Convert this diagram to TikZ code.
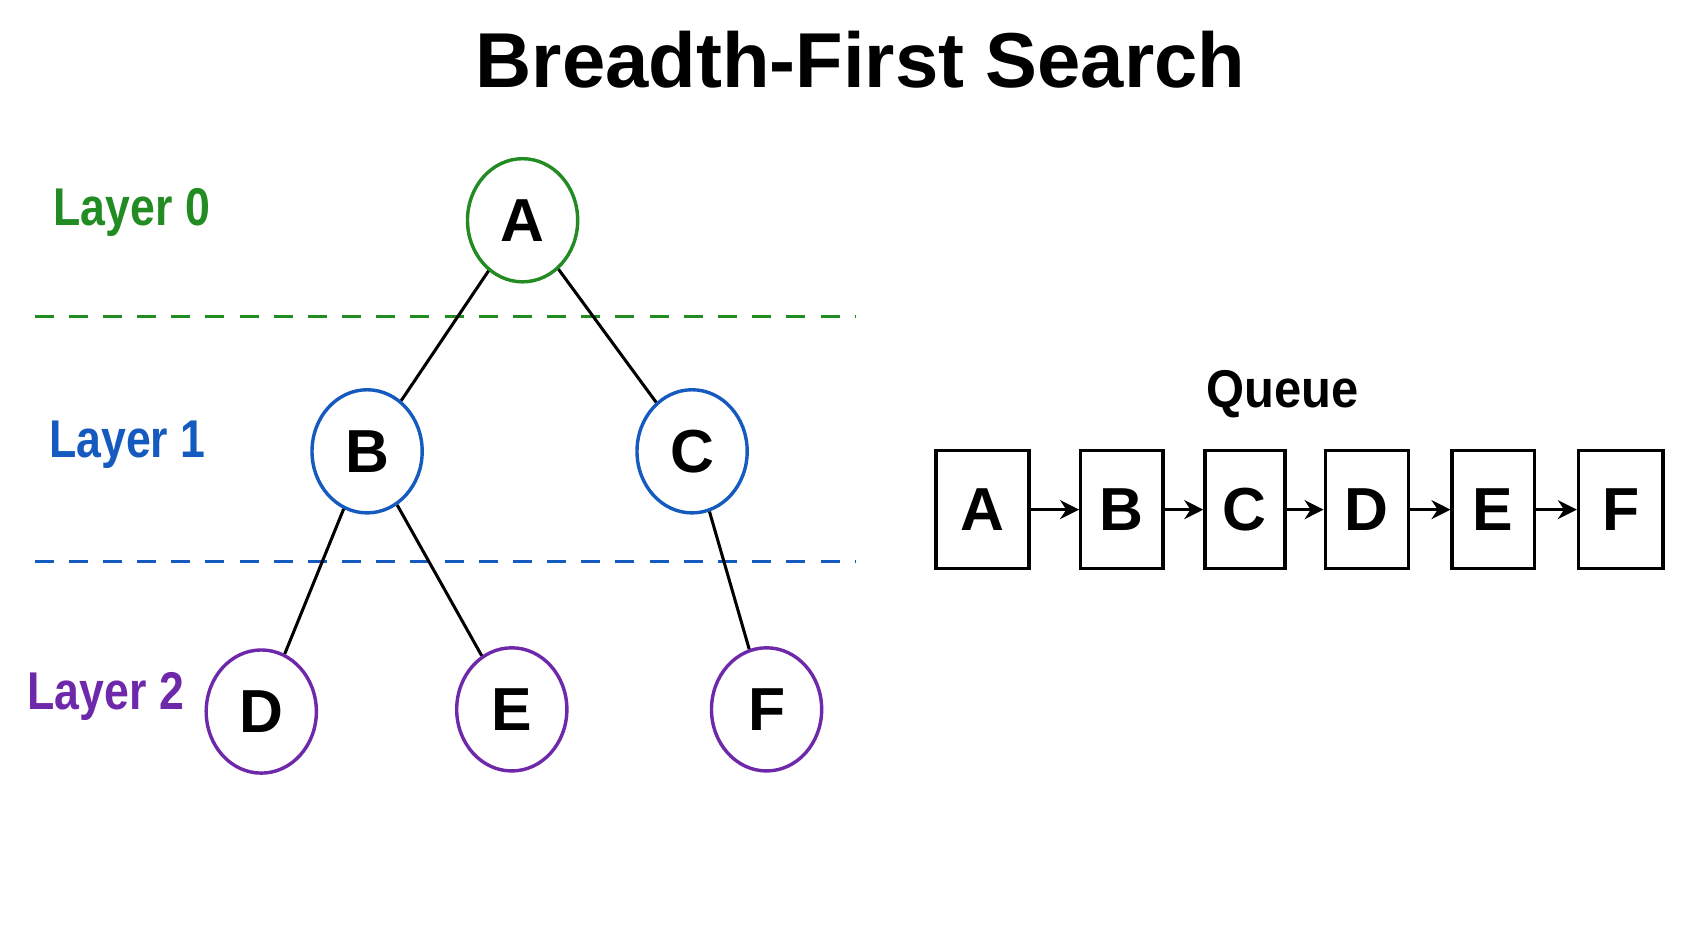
\documentclass[tikz,border=0pt]{standalone}
\usepackage{fontspec}
\setmainfont{Liberation Sans}
\usetikzlibrary{shapes.geometric,arrows.meta}
\definecolor{layerzero}{RGB}{34,139,34}
\definecolor{layerone}{RGB}{21,90,190}
\definecolor{layertwo}{RGB}{110,40,170}
\begin{document}
\begin{tikzpicture}[
		x=0.01cm, y=-0.01cm,
		vertex/.style={ellipse, draw, line width=0.9pt, minimum width=1.02cm, minimum height=1.14cm, inner sep=0pt, font=\fontsize{16}{16}\selectfont\bfseries},
		qbox/.style={rectangle, draw, line width=0.9pt, minimum height=1.09cm, inner sep=0pt, font=\fontsize{16}{16}\selectfont\bfseries},
		layer/.style={font=\fontsize{14}{14}\selectfont\bfseries, xscale=0.84},
		sep/.style={dashed, dash pattern=on 5pt off 4pt, line width=0.7pt}
	]
  \useasboundingbox (0,0) rectangle (1568,860);
  \node (title) [font=\fontsize{20.5}{20.5}\selectfont\bfseries] at (797,55) {Breadth-First Search};
  % layers
  \node (l0) [layer, text=layerzero] at (122,197) {Layer 0};
  \node (l1) [layer, text=layerone] at (118,412) {Layer 1};
  \node (l2) [layer, text=layertwo] at (98,645) {Layer 2};
  \coordinate (g0) at (32,293);
  \coordinate (g1) at (792,293);
  \coordinate (b0) at (32,520);
  \coordinate (b1) at (792,520);
  \draw [sep, layerzero] (g0) -- (g1);
  \draw [sep, layerone] (b0) -- (b1);
  % tree
  \node (A) [vertex, draw=layerzero] at (484,204) {A};
  \node (B) [vertex, draw=layerone] at (340,418) {B};
  \node (C) [vertex, draw=layerone] at (641,418) {C};
  \node (D) [vertex, draw=layertwo] at (242,659) {D};
  \node (E) [vertex, draw=layertwo] at (474,657) {E};
  \node (F) [vertex, draw=layertwo] at (710,657) {F};
  \draw [line width=0.8pt] (A) -- (B);
  \draw [line width=0.8pt] (A) -- (C);
  \draw [line width=0.8pt] (B) -- (D);
  \draw [line width=0.8pt] (B) -- (E);
  \draw [line width=0.8pt] (C) -- (F);
  % queue
  \node (queue) [font=\fontsize{14}{14}\selectfont\bfseries, xscale=0.92] at (1188,365) {Queue};
  \node (qA) [qbox, minimum width=0.86cm] at (910,472) {A};
  \node (qB) [qbox, minimum width=0.76cm] at (1039,472) {B};
  \node (qC) [qbox, minimum width=0.74cm] at (1153,472) {C};
  \node (qD) [qbox, minimum width=0.77cm] at (1266,472) {D};
  \node (qE) [qbox, minimum width=0.76cm] at (1383,472) {E};
  \node (qF) [qbox, minimum width=0.78cm] at (1501,472) {F};
  \foreach \s/\t in {qA/qB, qB/qC, qC/qD, qD/qE, qE/qF}
    \draw [line width=0.8pt, -{Stealth[length=5pt,width=5pt]}] (\s) -- (\t);
\end{tikzpicture}
\end{document}
